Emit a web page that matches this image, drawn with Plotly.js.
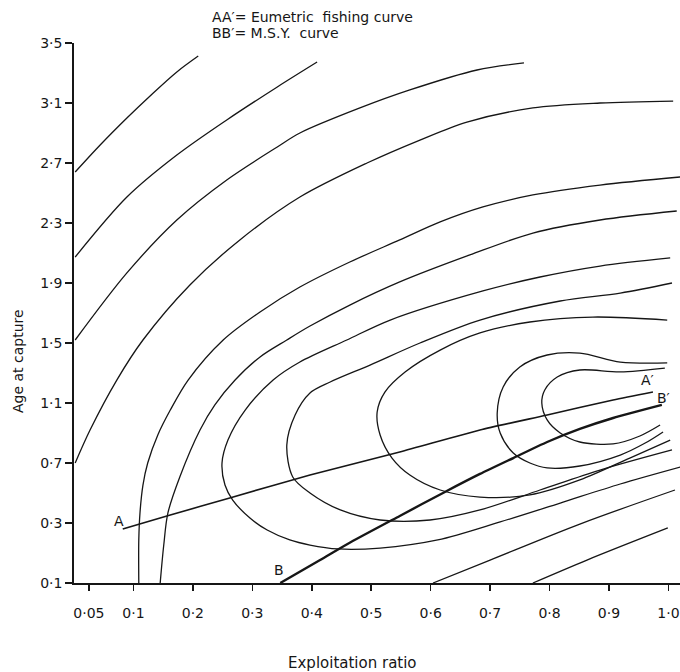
<!DOCTYPE html>
<html>
<head>
<meta charset="utf-8">
<script src="https://cdn.plot.ly/plotly-3.0.1.min.js"></script>
<style>html,body{margin:0;padding:0;background:#fff;}#chart{width:680px;height:672px;}</style>
</head>
<body>
<div id="chart"></div>
<script>
// Axis ticks (positions as drawn on the original axes, labels as printed)
const xTickVals = [0.025, 0.1, 0.2, 0.3, 0.4, 0.5, 0.6, 0.7, 0.8, 0.9, 1.0];
const xTickText = ["0·05", "0·1", "0·2", "0·3", "0·4", "0·5", "0·6", "0·7", "0·8", "0·9", "1·0"];
const yTickVals = [-0.1, 0.3, 0.7, 1.1, 1.5, 1.9, 2.3, 2.7, 3.1, 3.5];
const yTickText = ["0·1", "0·3", "0·7", "1·1", "1·5", "1·9", "2·3", "2·7", "3·1", "3·5"];

// Yield isopleths (exploitation ratio, age at capture)
const c1x = [0.002, 0.044, 0.089, 0.128, 0.173, 0.209];
const c1y = [2.64, 2.82, 3.00, 3.147, 3.307, 3.413];
const c2x = [0.002, 0.089, 0.173, 0.257, 0.342, 0.409];
const c2y = [2.073, 2.473, 2.753, 2.987, 3.207, 3.373];
const c3x = [0.002, 0.089, 0.173, 0.257, 0.342, 0.380, 0.481, 0.565, 0.678, 0.757];
const c3y = [1.52, 1.967, 2.32, 2.587, 2.807, 2.90, 3.067, 3.187, 3.32, 3.367];
const c4x = [0.002, 0.027, 0.072, 0.116, 0.195, 0.279, 0.380, 0.493, 0.582, 0.661, 0.772, 0.885, 1.008];
const c4y = [0.70, 0.92, 1.253, 1.52, 1.887, 2.187, 2.473, 2.70, 2.853, 2.973, 3.067, 3.10, 3.113];
const c5x = [0.109, 0.109, 0.111, 0.116, 0.124, 0.141, 0.162, 0.192, 0.251, 0.313, 0.380, 0.464, 0.548, 0.616, 0.688, 0.772, 0.885, 1.020];
const c5y = [-0.1, 0.187, 0.367, 0.553, 0.70, 0.887, 1.053, 1.253, 1.52, 1.707, 1.873, 2.04, 2.187, 2.307, 2.407, 2.487, 2.553, 2.607];
const c6x = [0.145, 0.151, 0.158, 0.178, 0.212, 0.237, 0.271, 0.313, 0.358, 0.397, 0.464, 0.548, 0.666, 0.772, 0.885, 1.014];
const c6y = [-0.1, 0.153, 0.367, 0.607, 0.92, 1.087, 1.253, 1.407, 1.52, 1.613, 1.753, 1.907, 2.087, 2.233, 2.32, 2.38];
const c7x = [1.003, 0.885, 0.784, 0.688, 0.532, 0.459, 0.380, 0.335, 0.288, 0.259, 0.249, 0.254, 0.267, 0.296, 0.325, 0.363, 0.397, 0.444, 0.515, 0.612, 0.717, 0.818, 0.919, 1.020];
const c7y = [2.067, 2.013, 1.94, 1.847, 1.653, 1.52, 1.373, 1.253, 1.053, 0.853, 0.70, 0.553, 0.453, 0.333, 0.253, 0.187, 0.153, 0.127, 0.133, 0.187, 0.307, 0.433, 0.56, 0.673];
const c8x = [1.006, 0.919, 0.818, 0.683, 0.582, 0.498, 0.431, 0.397, 0.372, 0.358, 0.368, 0.397, 0.448, 0.515, 0.599, 0.683, 0.784, 0.885, 1.006];
const c8y = [1.90, 1.833, 1.78, 1.653, 1.50, 1.353, 1.24, 1.167, 1.02, 0.82, 0.607, 0.50, 0.387, 0.32, 0.32, 0.387, 0.52, 0.653, 0.787];
const c9x = [0.998, 0.873, 0.767, 0.683, 0.616, 0.557, 0.523, 0.510, 0.515, 0.535, 0.565, 0.616, 0.683, 0.767, 0.851, 0.935, 1.003];
const c9y = [1.653, 1.673, 1.64, 1.567, 1.453, 1.307, 1.173, 1.04, 0.887, 0.733, 0.62, 0.52, 0.473, 0.487, 0.587, 0.733, 0.853];
const c10x = [0.998, 0.919, 0.851, 0.796, 0.750, 0.722, 0.712, 0.717, 0.739, 0.767, 0.796, 0.851, 0.919, 0.961, 0.991];
const c10y = [1.367, 1.373, 1.433, 1.42, 1.34, 1.207, 1.033, 0.90, 0.767, 0.70, 0.667, 0.68, 0.753, 0.833, 0.907];
const c11x = [0.994, 0.919, 0.851, 0.813, 0.792, 0.787, 0.796, 0.818, 0.851, 0.907, 0.952, 0.986];
const c11y = [1.333, 1.307, 1.32, 1.273, 1.187, 1.10, 0.987, 0.90, 0.84, 0.827, 0.88, 0.953];
const c12x = [0.604, 0.700, 0.851, 1.011];
const c12y = [-0.1, 0.053, 0.293, 0.52];
const c13x = [0.772, 0.863, 0.999];
const c13y = [-0.1, 0.053, 0.267];

// AA' eumetric fishing curve, BB' M.S.Y. curve
const aaX = [0.082, 0.162, 0.262, 0.397, 0.548, 0.683, 0.796, 0.907, 0.974];
const aaY = [0.26, 0.353, 0.467, 0.62, 0.773, 0.92, 1.02, 1.12, 1.173];
const bbX = [0.347, 0.414, 0.466, 0.548, 0.624, 0.683, 0.739, 0.796, 0.851, 0.907, 0.989];
const bbY = [-0.1, 0.053, 0.173, 0.347, 0.507, 0.627, 0.733, 0.84, 0.927, 1.00, 1.087];

// Curve end labels
const endLabels = ["A", "A′", "B", "B′"];
const endLabelX = [0.076, 0.964, 0.345, 0.991];
const endLabelY = [0.313, 1.253, -0.013, 1.133];

const ink = "#161616";
const FONT = "DejaVu Sans, Verdana, sans-serif";

const contours = [
  [c1x, c1y], [c2x, c2y], [c3x, c3y], [c4x, c4y], [c5x, c5y], [c6x, c6y],
  [c7x, c7y], [c8x, c8y], [c9x, c9y], [c10x, c10y], [c11x, c11y], [c12x, c12y], [c13x, c13y]
];

const traces = contours.map(c => ({
  x: c[0], y: c[1], type: "scatter", mode: "lines",
  line: {color: ink, width: 1.3, shape: "spline", smoothing: 0.9},
  hoverinfo: "skip", showlegend: false, cliponaxis: false
}));
traces.push({x: aaX, y: aaY, type: "scatter", mode: "lines",
  line: {color: ink, width: 1.6, shape: "spline", smoothing: 0.6}, showlegend: false, cliponaxis: false});
traces.push({x: bbX, y: bbY, type: "scatter", mode: "lines",
  line: {color: ink, width: 2.4, shape: "spline", smoothing: 0.6}, showlegend: false, cliponaxis: false});

const annotations = endLabels.map((t, i) => ({
  x: endLabelX[i], y: endLabelY[i], xref: "x", yref: "y", text: t, showarrow: false,
  font: {family: FONT, size: 14, color: ink}
}));
annotations.push(
  {xref: "paper", yref: "paper", x: 0.2244, y: 1.048, xanchor: "left", yanchor: "middle",
   text: "AA′= Eumetric  fishing curve", showarrow: false, font: {family: FONT, size: 14, color: ink}},
  {xref: "paper", yref: "paper", x: 0.2244, y: 1.0185, xanchor: "left", yanchor: "middle",
   text: "BB′= M.S.Y.  curve", showarrow: false, font: {family: FONT, size: 14, color: ink}},
  {xref: "paper", yref: "paper", x: 0.459, y: -0.148, xanchor: "center", yanchor: "middle",
   text: "Exploitation ratio", showarrow: false, font: {family: FONT, size: 15, color: ink}},
  {xref: "paper", yref: "paper", x: -0.0924, y: 0.411, xanchor: "center", yanchor: "middle",
   text: "Age at capture", textangle: -90, showarrow: false, font: {family: FONT, size: 14, color: ink}}
);

const layout = {
  width: 680, height: 672,
  margin: {l: 74, r: 0, t: 43, b: 89},
  paper_bgcolor: "#fff", plot_bgcolor: "#fff",
  showlegend: false,
  xaxis: {
    range: [0, 1.0195], showgrid: false, zeroline: false,
    showline: true, linecolor: ink, linewidth: 1.8,
    ticks: "outside", ticklen: 6, tickwidth: 1.6, tickcolor: ink,
    tickvals: xTickVals, ticktext: xTickText, ticklabelstandoff: 10,
    tickfont: {family: FONT, size: 14, color: ink}, fixedrange: true
  },
  yaxis: {
    range: [-0.1, 3.5], showgrid: false, zeroline: false,
    showline: true, linecolor: ink, linewidth: 1.8,
    ticks: "outside", ticklen: 7, tickwidth: 1.6, tickcolor: ink,
    tickvals: yTickVals, ticktext: yTickText,
    tickfont: {family: FONT, size: 14, color: ink}, fixedrange: true
  },
  annotations: annotations
};

Plotly.newPlot("chart", traces, layout, {displayModeBar: false, staticPlot: true});
</script>
</body>
</html>
